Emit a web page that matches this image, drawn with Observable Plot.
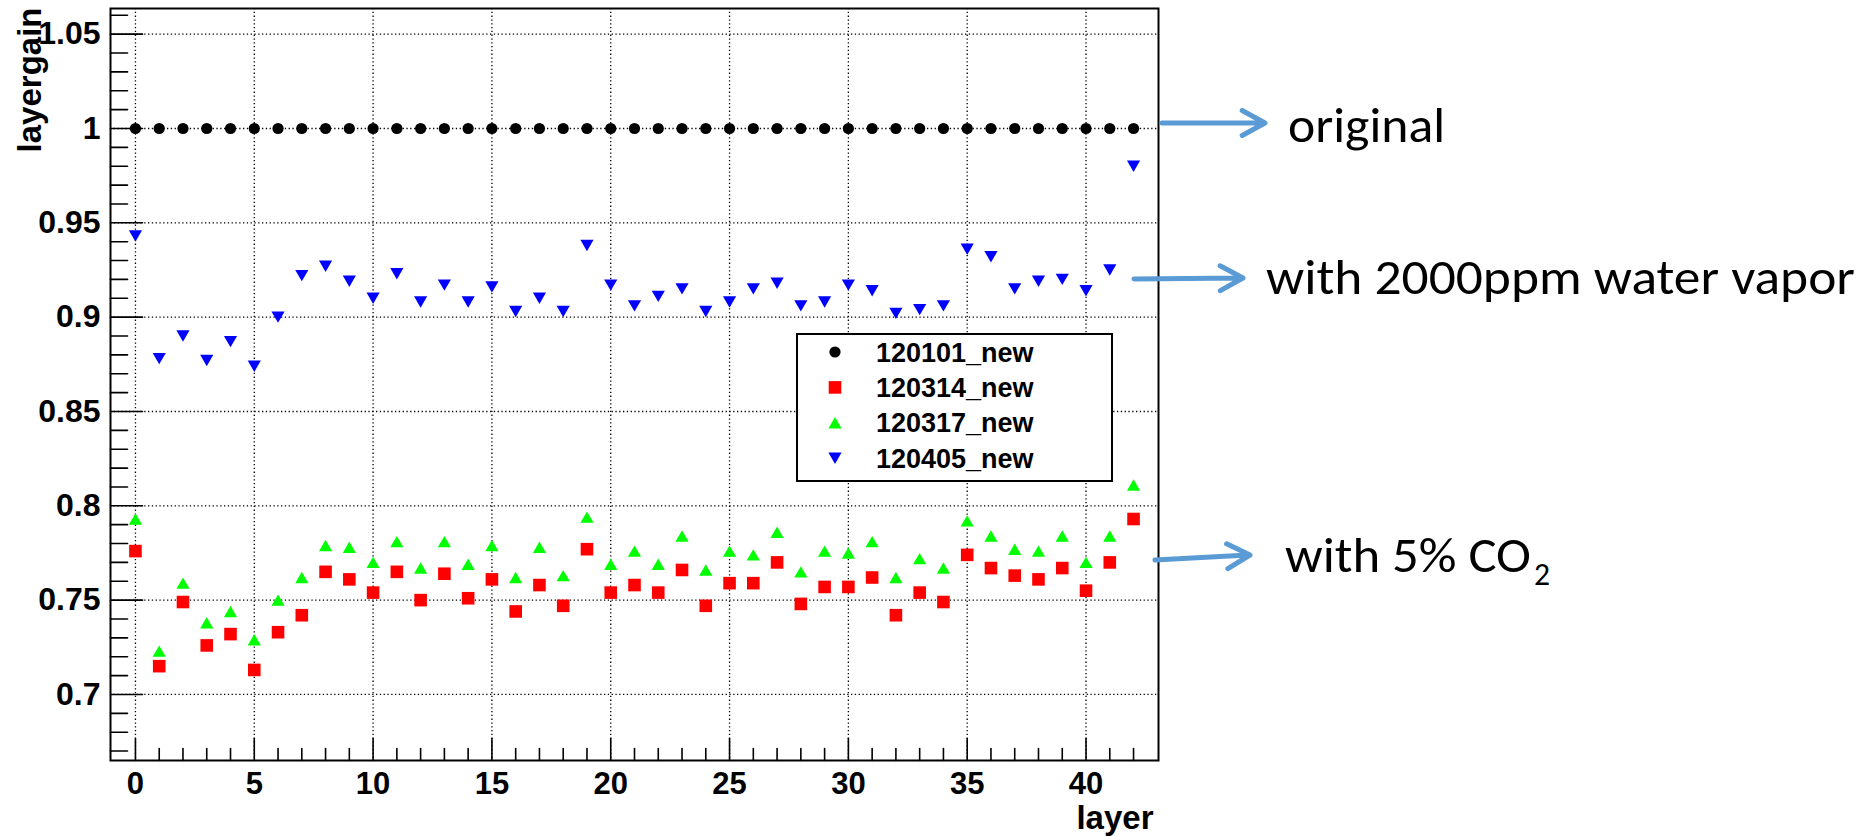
<!DOCTYPE html>
<html><head><meta charset="utf-8">
<script src="https://cdn.jsdelivr.net/npm/d3@7"></script>
<script src="https://cdn.jsdelivr.net/npm/@observablehq/plot@0.6"></script>
<style>html,body{margin:0;padding:0;background:#fff;overflow:hidden}</style>
</head><body><div id="chart"></div>
<script>
// ---- data ----
const layers = [0,1,2,3,4,5,6,7,8,9,10,11,12,13,14,15,16,17,18,19,20,21,22,23,24,25,26,27,28,29,30,31,32,33,34,35,36,37,38,39,40,41,42];
const gain120101 = [1,1,1,1,1,1,1,1,1,1,1,1,1,1,1,1,1,1,1,1,1,1,1,1,1,1,1,1,1,1,1,1,1,1,1,1,1,1,1,1,1,1,1];
const gain120314 = [0.776,0.715,0.749,0.726,0.732,0.713,0.733,0.742,0.765,0.761,0.754,0.765,0.750,0.764,0.751,0.761,0.744,0.758,0.747,0.777,0.754,0.758,0.754,0.766,0.747,0.759,0.759,0.770,0.748,0.757,0.757,0.762,0.742,0.754,0.749,0.774,0.767,0.763,0.761,0.767,0.755,0.770,0.793];
const gain120317 = [0.793,0.723,0.759,0.738,0.744,0.729,0.750,0.762,0.779,0.778,0.770,0.781,0.767,0.781,0.769,0.779,0.762,0.778,0.763,0.794,0.769,0.776,0.769,0.784,0.766,0.776,0.774,0.786,0.765,0.776,0.775,0.781,0.762,0.772,0.767,0.792,0.784,0.777,0.776,0.784,0.770,0.784,0.811];
const gain120405 = [0.943,0.878,0.890,0.877,0.887,0.874,0.900,0.922,0.927,0.919,0.910,0.923,0.908,0.917,0.908,0.916,0.903,0.910,0.903,0.938,0.917,0.906,0.911,0.915,0.903,0.908,0.915,0.918,0.906,0.908,0.917,0.914,0.902,0.904,0.906,0.936,0.932,0.915,0.919,0.920,0.914,0.925,0.980];

const seriesNames = ["120101_new","120314_new","120317_new","120405_new"];
const seriesColors = ["#000000","#ff0000","#00ff00","#0000ff"];

const xTicks = [0,5,10,15,20,25,30,35,40];
const xTickLabels = ["0","5","10","15","20","25","30","35","40"];
const xMinorTicks = [1,2,3,4,6,7,8,9,11,12,13,14,16,17,18,19,21,22,23,24,26,27,28,29,31,32,33,34,36,37,38,39,41,42];
const yTicks = [0.7,0.75,0.8,0.85,0.9,0.95,1.0,1.05];
const yTickLabels = ["0.7","0.75","0.8","0.85","0.9","0.95","1","1.05"];
const yMinorTicks = [0.67,0.68,0.69,0.71,0.72,0.73,0.74,0.76,0.77,0.78,0.79,0.81,0.82,0.83,0.84,0.86,0.87,0.88,0.89,0.91,0.92,0.93,0.94,0.96,0.97,0.98,0.99,1.01,1.02,1.03,1.04,1.06];

const annotationLabels = ["original","with 2000ppm water vapor","with 5% CO"];
const annotationSub = ["","","2"];

// ---- tables built from arrays ----
const seriesValues = [gain120101, gain120314, gain120317, gain120405];
const series = seriesValues.map(vals => layers.map((l, i) => ({layer: l, gain: vals[i]})));
const xTickRows = xTicks.map((v, i) => ({v, label: xTickLabels[i]}));
const yTickRows = yTicks.map((v, i) => ({v, label: yTickLabels[i]}));

// ---- symbols (ROOT-like, bbox-centred) ----
const sqSym = {draw(c, size){const r = Math.sqrt(size/Math.PI)*1.05; c.moveTo(-r,-r); c.lineTo(r,-r); c.lineTo(r,r); c.lineTo(-r,r); c.closePath();}};
const triUp = {draw(c, size){const r = Math.sqrt(size/Math.PI); const w=r*1.1, h=r*0.95; c.moveTo(0,-h); c.lineTo(w,h); c.lineTo(-w,h); c.closePath();}};
const triDown = {draw(c, size){const r = Math.sqrt(size/Math.PI); const w=r*1.1, h=r*0.95; c.moveTo(0,h); c.lineTo(w,-h); c.lineTo(-w,-h); c.closePath();}};
const circSym = d3.symbolCircle;
const seriesSymbols = [circSym, sqSym, triUp, triDown];
const seriesR = [5.6, 6, 6, 6];
const tickShape = {draw(c, l){c.moveTo(0,0); c.lineTo(0,-l);}};

const boldFont = "'Liberation Sans', Arial, Helvetica, sans-serif";

const chart = Plot.plot({
  width: 1875, height: 836,
  marginLeft: 110, marginRight: 717, marginTop: 8, marginBottom: 76,
  style: {fontFamily: boldFont, background: "white", overflow: "visible"},
  x: {domain: [-1.05, 43.05], axis: null},
  y: {domain: [0.665, 1.0636], axis: null},
  marks: [
    Plot.ruleX(xTicks, {x: d => d, stroke: "#000", strokeWidth: 1.3, strokeDasharray: "1.3,2.5"}),
    Plot.ruleY(yTicks, {y: d => d, stroke: "#000", strokeWidth: 1.3, strokeDasharray: "1.3,2.5"}),
    Plot.vector(yTicks, {y: d => d, frameAnchor: "left", rotate: 90, length: 32, anchor: "start", shape: tickShape, stroke: "#000", strokeWidth: 1.6}),
    Plot.vector(yMinorTicks, {y: d => d, frameAnchor: "left", rotate: 90, length: 17, anchor: "start", shape: tickShape, stroke: "#000", strokeWidth: 1.6}),
    Plot.vector(xTicks, {x: d => d, frameAnchor: "bottom", rotate: 0, length: 22, anchor: "start", shape: tickShape, stroke: "#000", strokeWidth: 1.6}),
    Plot.vector(xMinorTicks, {x: d => d, frameAnchor: "bottom", rotate: 0, length: 12, anchor: "start", shape: tickShape, stroke: "#000", strokeWidth: 1.6}),
    Plot.frame({stroke: "#000", strokeWidth: 2}),
    Plot.text(yTickRows, {y: "v", text: "label", frameAnchor: "left", textAnchor: "end", lineAnchor: "middle", dx: -10, fontSize: 32, fontWeight: "bold", fill: "#000"}),
    Plot.text(xTickRows, {x: "v", text: "label", frameAnchor: "bottom", textAnchor: "middle", lineAnchor: "middle", dy: 24, fontSize: 31, fontWeight: "bold", fill: "#000"}),
    Plot.text(["layergain"], {text: d => d, frameAnchor: "top-left", rotate: -90, textAnchor: "end", lineAnchor: "bottom", dx: -70, dy: -1, fontSize: 33, fontWeight: "bold", fill: "#000"}),
    Plot.text(["layer"], {text: d => d, frameAnchor: "bottom-right", textAnchor: "end", lineAnchor: "bottom", dx: -5, dy: 68, fontSize: 33, fontWeight: "bold", fill: "#000"}),
    ...series.map((s, k) => Plot.dot(s, {x: "layer", y: "gain", symbol: seriesSymbols[k], r: seriesR[k], fill: seriesColors[k], stroke: "none"}))
  ]
});
document.getElementById("chart").appendChild(chart);

// ---- legend (in-plot box, ROOT TLegend style) ----
const svg = d3.select(chart);
const lg = svg.append("g").attr("text-anchor", "start");
lg.append("rect").attr("x", 797).attr("y", 334).attr("width", 315).attr("height", 147)
  .attr("fill", "#fff").attr("stroke", "#000").attr("stroke-width", 2);
seriesNames.forEach((name, k) => {
  const cy = 352 + k * 35.4;
  const p = d3.path();
  seriesSymbols[k].draw(p, Math.PI * seriesR[k] * seriesR[k]);
  lg.append("path").attr("d", p.toString()).attr("transform", `translate(835,${cy})`).attr("fill", seriesColors[k]);
  lg.append("text").attr("x", 876).attr("y", cy + 9.5).text(name)
    .attr("text-anchor", "start")
    .attr("font-family", boldFont).attr("font-weight", "bold").attr("font-size", 27).attr("fill", "#000");
});

// ---- annotations (arrows + labels on the right) ----
const annFont = "Carlito, Calibri, Lato, 'Open Sans', sans-serif";
const arrows = [
  {x0: 1162, y0: 123, x1: 1265, y1: 123},
  {x0: 1134, y0: 279, x1: 1243, y1: 278},
  {x0: 1155, y0: 560, x1: 1250, y1: 555}
];
const labelPos = [
  {x: 1288, y: 142, w: 157},
  {x: 1266, y: 294, w: 589},
  {x: 1285, y: 572, w: 246, sx: 1534, sy: 585, sw: 16}
];
const ag = svg.append("g").attr("text-anchor", "start");
arrows.forEach(a => {
  const ang = Math.atan2(a.y1 - a.y0, a.x1 - a.x0);
  const hl = 26, ha = 0.5;
  const hx1 = a.x1 - hl * Math.cos(ang - ha), hy1 = a.y1 - hl * Math.sin(ang - ha);
  const hx2 = a.x1 - hl * Math.cos(ang + ha), hy2 = a.y1 - hl * Math.sin(ang + ha);
  ag.append("path")
    .attr("d", `M${a.x0},${a.y0}L${a.x1 - 2},${a.y1}M${hx1},${hy1}L${a.x1},${a.y1}L${hx2},${hy2}`)
    .attr("fill", "none").attr("stroke", "#5b9bd5").attr("stroke-width", 5)
    .attr("stroke-linecap", "round").attr("stroke-linejoin", "round");
});
annotationLabels.forEach((t, i) => {
  const lp = labelPos[i];
  ag.append("text").attr("x", lp.x).attr("y", lp.y).text(t)
    .attr("text-anchor", "start")
    .attr("font-family", annFont).attr("font-size", 50).attr("fill", "#000")
    .attr("textLength", lp.w).attr("lengthAdjust", "spacingAndGlyphs");
  if (annotationSub[i]) {
    ag.append("text").attr("x", lp.sx).attr("y", lp.sy).text(annotationSub[i])
      .attr("text-anchor", "start")
      .attr("font-family", annFont).attr("font-size", 32).attr("fill", "#000")
      .attr("textLength", lp.sw).attr("lengthAdjust", "spacingAndGlyphs");
  }
});
</script>
</body></html>
